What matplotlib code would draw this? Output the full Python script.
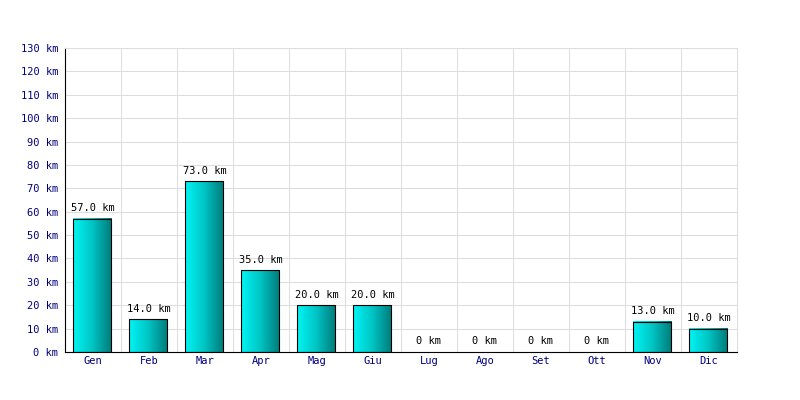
import numpy as np
import matplotlib.pyplot as plt
from matplotlib.colors import LinearSegmentedColormap

months = ["Gen", "Feb", "Mar", "Apr", "Mag", "Giu", "Lug", "Ago", "Set", "Ott", "Nov", "Dic"]
km = [57.0, 14.0, 73.0, 35.0, 20.0, 20.0, 0, 0, 0, 0, 13.0, 10.0]
yticks = list(range(0, 140, 10))

barW = 0.68
font = "DejaVu Sans Mono"
cmap = LinearSegmentedColormap.from_list("cy", ["#00f4f4", "#00c4c4", "#007b7b"])
grad = np.linspace(0, 1, 64).reshape(1, -1)

fig = plt.figure(figsize=(8, 4), dpi=100)
ax = fig.add_axes([65/800, 48/400, 672/800, 304/400])

x = np.arange(len(months))
for i, v in enumerate(km):
    x0 = x[i] - barW/2 - 0.02
    if v > 0:
        ax.imshow(grad, cmap=cmap, aspect="auto", extent=(x0, x0 + barW, 0, v), zorder=2)
        ax.add_patch(plt.Rectangle((x0, 0), barW, v, fill=False, edgecolor="black", lw=0.8, zorder=3))
    lab = "0 km" if v == 0 else "%.1f km" % v
    ax.annotate(lab, (x[i], v), xytext=(0, 4), textcoords="offset points",
                ha="center", va="bottom", fontsize=7.5, family=font, color="black")

ax.set_xlim(-0.5, len(months) - 0.5)
ax.set_ylim(0, 130)
ax.set_xticks(x)
ax.set_xticklabels(months, family=font, fontsize=7.5, color="#000080")
ax.set_yticks(yticks)
ax.set_yticklabels(["%d km" % t for t in yticks], family=font, fontsize=7.5, color="#000080")
ax.set_xticks(np.arange(0.5, len(months) - 0.5, 1), minor=True)
ax.tick_params(which="both", length=0)
ax.tick_params(axis="x", pad=3)
ax.tick_params(axis="y", pad=5)
ax.grid(True, axis="y", color="#dddddd", lw=0.75, zorder=0)
ax.grid(True, axis="x", which="minor", color="#dddddd", lw=0.75, zorder=0)
ax.set_axisbelow(True)
for s in ["top", "right"]:
    ax.spines[s].set_color("#dddddd")
    ax.spines[s].set_linewidth(0.75)
ax.spines["left"].set_color("black")
ax.spines["bottom"].set_color("black")

fig.savefig("out.png", dpi=100)
